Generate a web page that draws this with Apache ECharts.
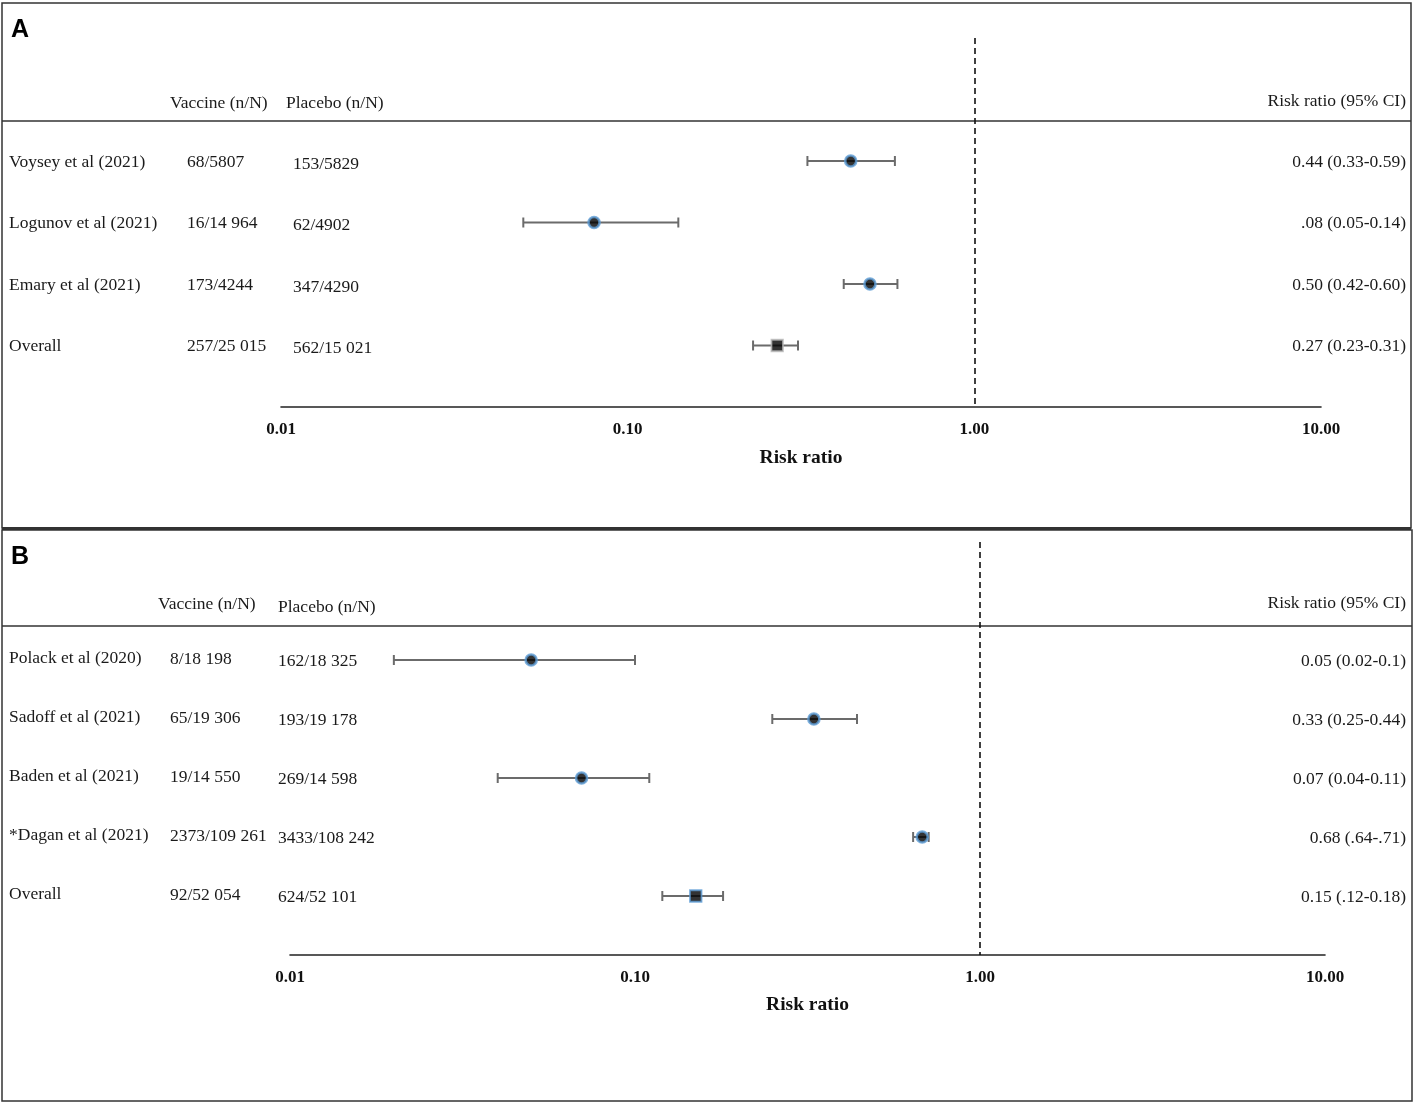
<!DOCTYPE html>
<html>
<head>
<meta charset="utf-8">
<script src="https://cdn.jsdelivr.net/npm/echarts@6/dist/echarts.min.js"></script>
<style>
html,body{margin:0;padding:0;background:#fff;}
#chart{width:1417px;height:1103px;}
</style>
</head>
<body>
<div id="chart"></div>
<script>
// ---------- Panel A data ----------
const studiesA = ['Voysey et al (2021)', 'Logunov et al (2021)', 'Emary et al (2021)', 'Overall'];
const vaccineA = ['68/5807', '16/14 964', '173/4244', '257/25 015'];
const placeboA = ['153/5829', '62/4902', '347/4290', '562/15 021'];
const rrA = [0.44, 0.08, 0.50, 0.27];
const loA = [0.33, 0.05, 0.42, 0.23];
const hiA = [0.59, 0.14, 0.60, 0.31];
const ciTextA = ['0.44 (0.33-0.59)', '.08 (0.05-0.14)', '0.50 (0.42-0.60)', '0.27 (0.23-0.31)'];

// ---------- Panel B data ----------
const studiesB = ['Polack et al (2020)', 'Sadoff et al (2021)', 'Baden et al (2021)', '*Dagan et al (2021)', 'Overall'];
const vaccineB = ['8/18 198', '65/19 306', '19/14 550', '2373/109 261', '92/52 054'];
const placeboB = ['162/18 325', '193/19 178', '269/14 598', '3433/108 242', '624/52 101'];
const rrB = [0.05, 0.33, 0.07, 0.68, 0.15];
const loB = [0.02, 0.25, 0.04, 0.64, 0.12];
const hiB = [0.1, 0.44, 0.11, 0.71, 0.18];
const ciTextB = ['0.05 (0.02-0.1)', '0.33 (0.25-0.44)', '0.07 (0.04-0.11)', '0.68 (.64-.71)', '0.15 (.12-0.18)'];

// ---------- shared ----------
const axisMin = 0.01, axisMax = 10, refValue = 1;
const headerVaccine = 'Vaccine (n/N)';
const headerPlacebo = 'Placebo (n/N)';
const headerRR = 'Risk ratio (95% CI)';
const axisTitle = 'Risk ratio';

const SERIF = '"Liberation Serif", "Times New Roman", serif';
const SANS = '"Liberation Sans", Arial, sans-serif';
const TXT = '#1a1a1a';
const textFont = '17.5px ' + SERIF;

const chart = echarts.init(document.getElementById('chart'), null, {renderer: 'canvas'});

function xAxisCfg(gi, margin, nameGap) {
  return {
    gridIndex: gi, type: 'log', logBase: 10, min: axisMin, max: axisMax,
    axisLine: {show: true, onZero: false, lineStyle: {color: '#222', width: 1.6}},
    axisTick: {show: false}, splitLine: {show: false},
    axisLabel: {
      show: true, margin: margin, color: '#111', fontFamily: SERIF, fontWeight: 'bold', fontSize: 17,
      showMinLabel: true, showMaxLabel: true,
      formatter: v => Number(v).toFixed(2)
    },
    name: axisTitle, nameLocation: 'middle', nameGap: nameGap,
    nameTextStyle: {color: '#111', fontFamily: SERIF, fontWeight: 'bold', fontSize: 19.5}
  };
}
function yAxisCfg(gi, maxRow) {
  return {gridIndex: gi, type: 'value', min: -2, max: maxRow, inverse: true, show: false};
}

function ciSeries(ai, lo, hi) {
  return {
    type: 'custom', xAxisIndex: ai, yAxisIndex: ai, clip: false, z: 2,
    data: lo.map((l, i) => [l, hi[i], i]),
    encode: {x: [0, 1], y: 2},
    renderItem: function (params, api) {
      const row = api.value(2);
      const p1 = api.coord([api.value(0), row]);
      const p2 = api.coord([api.value(1), row]);
      const h = 5;
      const st = {stroke: '#6b6b6b', lineWidth: 2};
      return {type: 'group', children: [
        {type: 'line', shape: {x1: p1[0], y1: p1[1], x2: p2[0], y2: p2[1]}, style: st},
        {type: 'line', shape: {x1: p1[0], y1: p1[1] - h, x2: p1[0], y2: p1[1] + h}, style: st},
        {type: 'line', shape: {x1: p2[0], y1: p2[1] - h, x2: p2[0], y2: p2[1] + h}, style: st}
      ]};
    }
  };
}

function pointSeries(ai, rr, names, squareBorder, withRef) {
  const s = {
    type: 'scatter', xAxisIndex: ai, yAxisIndex: ai, z: 5,
    data: rr.map((v, i) => {
      const overall = names[i] === 'Overall';
      return {
        value: [v, i],
        symbol: overall ? 'rect' : 'circle',
        symbolSize: overall ? 11.5 : 11,
        itemStyle: {color: '#000', borderColor: overall ? squareBorder : '#5b9bd5', borderWidth: overall ? 1.8 : 2.6}
      };
    })
  };
  if (withRef) {
    s.markLine = {
      silent: true, symbol: ['none', 'none'], label: {show: false},
      lineStyle: {color: '#111', type: [6, 4], width: 1.6},
      data: [{xAxis: refValue}]
    };
  }
  return s;
}

function textColumn(ai, arr, xPix, align, dy) {
  return {
    type: 'custom', xAxisIndex: ai, yAxisIndex: ai, clip: false, z: 3, silent: true,
    data: arr.map((t, i) => [refValue, i]),
    encode: {x: 0, y: 1},
    renderItem: function (params, api) {
      const p = api.coord([api.value(0), api.value(1)]);
      return {
        type: 'text', x: xPix, y: p[1] + (dy || 0),
        style: {text: arr[params.dataIndex], fill: TXT, font: textFont,
                align: align, verticalAlign: 'middle', textAlign: align, textVerticalAlign: 'middle'}
      };
    }
  };
}

function gText(txt, x, y, align, font, fill) {
  return {type: 'text', x: x, y: y, silent: true,
    style: {text: txt, font: font || textFont, fill: fill || TXT,
            align: align || 'left', verticalAlign: 'middle', textAlign: align || 'left', textVerticalAlign: 'middle'}};
}
function gLine(x1, y1, x2, y2, w) {
  return {type: 'line', silent: true, shape: {x1, y1, x2, y2}, style: {stroke: '#333', lineWidth: w || 1.5}};
}

const option = {
  backgroundColor: '#fff',
  animation: false,
  grid: [
    {left: 281, top: 38, width: 1040, height: 369, containLabel: false},
    {left: 290, top: 542, width: 1035, height: 413, containLabel: false}
  ],
  xAxis: [xAxisCfg(0, 14, 41), xAxisCfg(1, 14, 40)],
  yAxis: [yAxisCfg(0, 4), yAxisCfg(1, 5)],
  series: [
    ciSeries(0, loA, hiA),
    pointSeries(0, rrA, studiesA, '#b8b8b8', true),
    textColumn(0, studiesA, 9, 'left', 1),
    textColumn(0, vaccineA, 187, 'left', 1),
    textColumn(0, placeboA, 293, 'left', 3),
    textColumn(0, ciTextA, 1406, 'right', 1),

    ciSeries(1, loB, hiB),
    pointSeries(1, rrB, studiesB, '#5b9bd5', true),
    textColumn(1, studiesB, 9, 'left', -2),
    textColumn(1, vaccineB, 170, 'left', -1),
    textColumn(1, placeboB, 278, 'left', 1),
    textColumn(1, ciTextB, 1406, 'right', 1)
  ],
  graphic: [
    {type: 'rect', silent: true, shape: {x: 2, y: 3, width: 1409, height: 525}, style: {fill: 'none', stroke: '#333', lineWidth: 1.5}},
    gLine(2, 528.5, 1411, 528.5, 3),
    {type: 'rect', silent: true, shape: {x: 2, y: 530, width: 1410, height: 571}, style: {fill: 'none', stroke: '#333', lineWidth: 1.5}},
    gLine(2, 121, 1411, 121, 1.3),
    gLine(2, 626, 1412, 626, 1.3),
    gText('A', 11, 30, 'left', 'bold 25px ' + SANS, '#000'),
    gText('B', 11, 557, 'left', 'bold 25px ' + SANS, '#000'),
    gText(headerVaccine, 170, 103),
    gText(headerPlacebo, 286, 103),
    gText(headerRR, 1406, 101, 'right'),
    gText(headerVaccine, 158, 604),
    gText(headerPlacebo, 278, 607),
    gText(headerRR, 1406, 603, 'right')
  ]
};
chart.setOption(option);
</script>
</body>
</html>
